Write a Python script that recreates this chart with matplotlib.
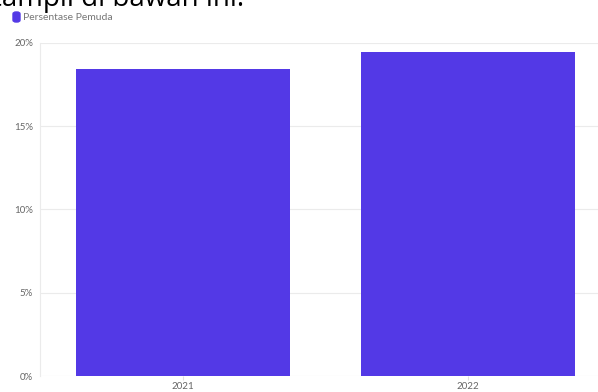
import matplotlib
matplotlib.use("Agg")
import matplotlib.pyplot as plt
from matplotlib.patches import FancyBboxPatch

categories = ["2021", "2022"]
values = [18.45, 19.45]
yticks = [0, 5, 10, 15, 20]
ytick_labels = ["0%", "5%", "10%", "15%", "20%"]
series_name = "Persentase Pemuda"

W, H = 598, 392
fig = plt.figure(figsize=(W / 100, H / 100), dpi=100)
plt.rcParams['font.family'] = ['Lato', 'DejaVu Sans']

left, right = 40, 611
top, bottom = 43, 376
ax = fig.add_axes([left / W, 1 - bottom / H, (right - left) / W, (bottom - top) / H])
ax.set_xlim(-0.5, 1.5)
ax.set_ylim(0, 20)

bar_color = "#5339e6"
ax.bar(range(len(categories)), values, width=0.75, color=bar_color, zorder=3)

ax.set_yticks(yticks)
ax.set_yticklabels(ytick_labels)
ax.set_xticks(range(len(categories)))
ax.set_xticklabels(categories)
ax.grid(axis='y', color='#ebebeb', linewidth=0.8, zorder=0)
for s in ['top', 'right', 'bottom']:
    ax.spines[s].set_visible(False)
ax.spines['left'].set_color('#ebebeb')
ax.spines['left'].set_linewidth(0.8)
ax.tick_params(axis='y', length=0, pad=5, labelsize=7, labelcolor='#666666')
ax.tick_params(axis='x', length=3, color='#e0e0e0', pad=1.5, labelsize=7, labelcolor='#666666')

# legend
fig.patches.append(FancyBboxPatch((13 / W, 1 - 22 / H), 7 / W, 10 / H,
                                  boxstyle="round,pad=0,rounding_size=0.005",
                                  transform=fig.transFigure, color=bar_color))
fig.text(23 / W, 1 - 17 / H, series_name, fontsize=7.5, color='#777777', va='center', ha='left')

# clipped text from surrounding page
fig.text(-8 / W, 1 - 6 / H, "tampil di bawah ini.", fontsize=20, color='black',
         va='baseline', ha='left', family=['Open Sans', 'DejaVu Sans'])

fig.savefig("out.png", dpi=100)
